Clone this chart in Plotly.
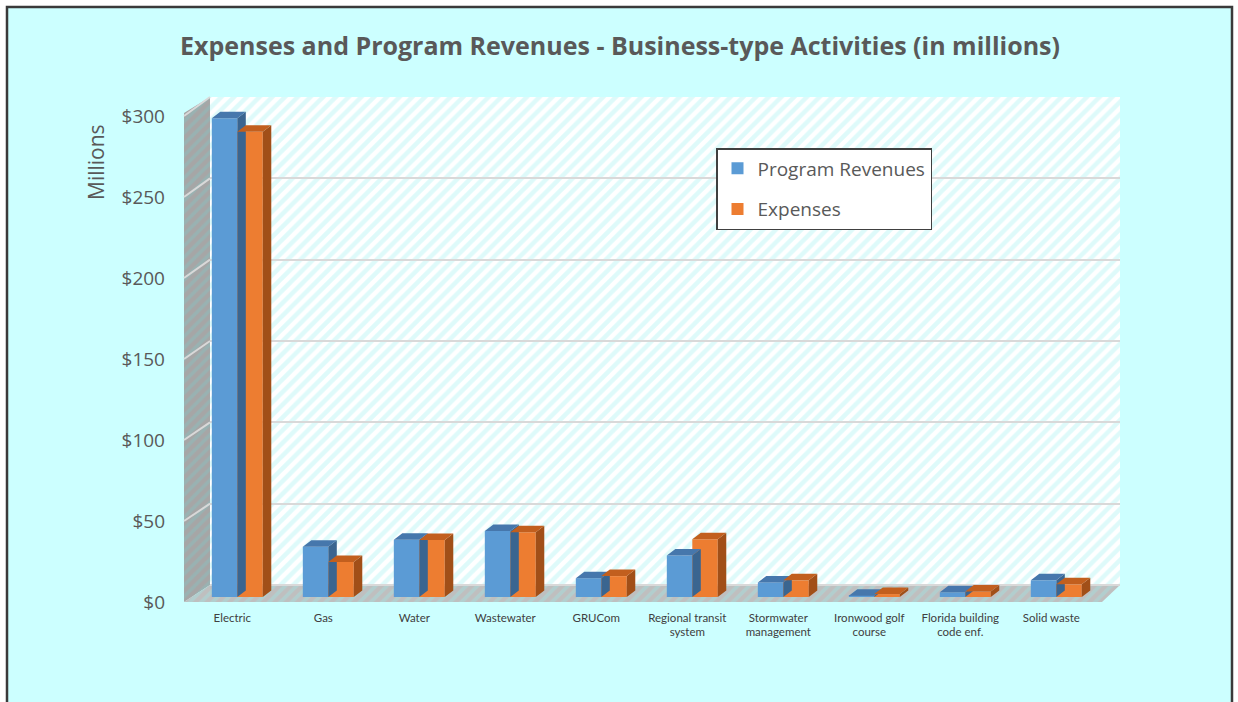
import plotly.graph_objects as go

# ---------------- data ----------------
categories = ["Electric", "Gas", "Water", "Wastewater", "GRUCom",
              "Regional transit<br>system", "Stormwater<br>management",
              "Ironwood golf<br>course", "Florida building<br>code enf.", "Solid waste"]
program_revenues = [295.5, 31.0, 35.4, 40.7, 11.6, 25.6, 9.0, 0.8, 2.9, 10.3]
expenses = [287.2, 21.6, 35.2, 40.0, 12.9, 35.7, 10.3, 1.8, 3.4, 7.8]
y_ticks = [0, 50, 100, 150, 200, 250, 300]
y_tick_labels = ["$0", "$50", "$100", "$150", "$200", "$250", "$300"]
series_names = ["Program Revenues", "Expenses"]

# ---------------- styling / geometry ----------------
W, H = 1238, 702
PX_L, PX_R, PY_T, PY_B = 210, 1120, 97, 604
X_RANGE = [-0.3, 9.7]
X_LABEL_RANGE = [-0.245, 9.755]
UNIT_PX = (PX_R - PX_L) / (X_RANGE[1] - X_RANGE[0])
BAR_ZERO, BAR_SCALE = 597, 1.62       # front plane of bars
GRID_ZERO, GRID_SCALE = 585, 488 / 300  # back wall
LAB_ZERO, LAB_SCALE = 602, 1.62        # front edge (labels)
BAR_W = 0.28
DX = 8.5 / UNIT_PX
DY = 6.5 / BAR_SCALE
FLOOR_FRONT_Y, WALL_L = 602, 184

C_BLUE, C_BLUE_TOP, C_BLUE_SIDE = "#5B9BD5", "#4677AC", "#3A6590"
C_ORANGE, C_ORANGE_TOP, C_ORANGE_SIDE = "#ED7D31", "#C25F1E", "#A14F18"
TXT = "#595959"
FONT = "Open Sans"


def yrange(zero_px, scale):
    lo = -(PY_B - zero_px) / scale
    hi = lo + (PY_B - PY_T) / scale
    return [lo, hi]


fig = go.Figure()

# ---------------- canvas subplot (walls, floor) ----------------
def poly(xs, ys, bg, fg, size=10, sol=0.45):
    fig.add_trace(go.Scatter(
        x=xs + [xs[0]], y=ys + [ys[0]], mode="lines", line=dict(width=0, color=bg),
        fill="toself", fillcolor=bg,
        fillpattern=dict(shape="/", bgcolor=bg, fgcolor=fg, size=size, solidity=sol),
        hoverinfo="skip", showlegend=False, xaxis="x", yaxis="y"))

# back wall
poly([PX_L, PX_R, PX_R, PX_L], [PY_T, PY_T, GRID_ZERO, GRID_ZERO], "#FFFFFF", "#BDF6F6", 9, 0.5)
# left wall
poly([WALL_L, PX_L, PX_L, WALL_L], [113, PY_T, GRID_ZERO, FLOOR_FRONT_Y], "#A6A6A6", "#8CBDBD", 8, 0.45)
# floor
poly([WALL_L, PX_L, PX_R, 1102], [FLOOR_FRONT_Y, GRID_ZERO, GRID_ZERO, FLOOR_FRONT_Y], "#BFBFBF", "#A6DEDE", 8, 0.45)

# slanted gridlines on the left wall
lx, ly = [], []
for t in y_ticks[1:]:
    lx += [WALL_L, PX_L, None]
    ly += [LAB_ZERO - LAB_SCALE * t, GRID_ZERO - GRID_SCALE * t, None]
fig.add_trace(go.Scatter(x=lx, y=ly, mode="lines", line=dict(color="#D9D9D9", width=2),
                         hoverinfo="skip", showlegend=False, xaxis="x", yaxis="y"))

# ---------------- grid subplot (x2, y2) dummy ----------------
fig.add_trace(go.Scatter(x=[0], y=[0], mode="markers", marker=dict(opacity=0),
                         hoverinfo="skip", showlegend=False, xaxis="x2", yaxis="y2"))

# ---------------- bars ----------------
def bar_series(vals, name, offset, c_front, c_top, c_side, rank):
    xs = list(range(len(vals)))
    fig.add_trace(go.Bar(x=xs, y=vals, width=BAR_W, offset=offset, name=name,
                         marker=dict(color=c_front, line=dict(width=0)),
                         legendgroup=name, legendrank=rank,
                         xaxis="x2", yaxis="y3"))
    sx, sy, tx, ty = [], [], [], []
    for i, v in enumerate(vals):
        xl = i + offset
        xr = xl + BAR_W
        sx += [xr, xr + DX, xr + DX, xr, None]
        sy += [0, DY, v + DY, v, None]
        tx += [xl, xr, xr + DX, xl + DX, None]
        ty += [v, v, v + DY, v + DY, None]
    for px, py, col in ((sx, sy, c_side), (tx, ty, c_top)):
        fig.add_trace(go.Scatter(x=px, y=py, mode="lines", line=dict(width=0, color=col),
                                 fill="toself", fillcolor=col, hoverinfo="skip",
                                 showlegend=False, xaxis="x2", yaxis="y3"))

bar_series(program_revenues, series_names[0], -BAR_W, C_BLUE, C_BLUE_TOP, C_BLUE_SIDE, 1)
bar_series(expenses, series_names[1], 0.0, C_ORANGE, C_ORANGE_TOP, C_ORANGE_SIDE, 2)

# label-only x axis trace
fig.add_trace(go.Scatter(x=[0], y=[0], mode="markers", marker=dict(opacity=0),
                         hoverinfo="skip", showlegend=False, xaxis="x3", yaxis="y2"))
# label-only y axis trace
fig.add_trace(go.Scatter(x=[0], y=[0], mode="markers", marker=dict(opacity=0),
                         hoverinfo="skip", showlegend=False, xaxis="x2", yaxis="y4"))

dom_x = [PX_L / W, PX_R / W]
dom_y = [(H - PY_B) / H, (H - PY_T) / H]
hidden = dict(visible=False, showgrid=False, zeroline=False, fixedrange=True, automargin=False)

bx0, bx1, by1 = 7 / W, 1232 / W, (H - 7) / H

fig.update_layout(
    width=W, height=H, autosize=False,
    margin=dict(l=0, r=0, t=0, b=0, pad=0, autoexpand=False),
    paper_bgcolor="#FFFFFF", plot_bgcolor="rgba(0,0,0,0)",
    barmode="overlay",
    font=dict(family=FONT, color=TXT),
    title=dict(text="<b>Expenses and Program Revenues - Business-type Activities (in millions)</b>",
               x=620 / W, xanchor="center", y=1 - 46 / H, yanchor="middle",
               font=dict(family=FONT, size=25, color=TXT)),
    xaxis=dict(domain=[0, 1], range=[0, W], **hidden),
    yaxis=dict(domain=[0, 1], range=[H, 0], **hidden),
    xaxis2=dict(domain=dom_x, range=X_RANGE, anchor="y2", showgrid=False, zeroline=False,
                showticklabels=False, ticks="", showline=False, fixedrange=True, automargin=False),
    xaxis3=dict(range=X_LABEL_RANGE, overlaying="x2", anchor="y2", side="bottom",
                tickmode="array", tickvals=list(range(len(categories))), ticktext=categories,
                showgrid=False, zeroline=False, ticks="", showline=False,
                ticklabelstandoff=5, tickfont=dict(size=11.5, color="#404040", family="Lato"),
                fixedrange=True, automargin=False),
    yaxis2=dict(domain=dom_y, range=yrange(GRID_ZERO, GRID_SCALE), anchor="x2",
                tickmode="array", tickvals=y_ticks, showticklabels=False, ticks="",
                showgrid=True, gridcolor="#D9D9D9", gridwidth=2, zeroline=False,
                showline=False, fixedrange=True, automargin=False),
    yaxis3=dict(range=yrange(BAR_ZERO, BAR_SCALE), overlaying="y2", anchor="x2",
                showgrid=False, zeroline=False, showticklabels=False, ticks="",
                showline=False, fixedrange=True, automargin=False),
    yaxis4=dict(range=yrange(LAB_ZERO, LAB_SCALE), overlaying="y2", anchor="x2", side="left",
                tickmode="array", tickvals=y_ticks, ticktext=y_tick_labels,
                showgrid=False, zeroline=False, ticks="", showline=False,
                ticklabelstandoff=44, tickfont=dict(size=19, color=TXT, family=FONT),
                fixedrange=True, automargin=False),
    legend=dict(x=716 / W, y=1 - 148 / H, xanchor="left", yanchor="top",
                bgcolor="#FFFFFF", bordercolor="#404040", borderwidth=1.5,
                traceorder="grouped", tracegroupgap=13,
                font=dict(size=19, color=TXT, family=FONT),
                itemclick=False, itemdoubleclick=False),
    showlegend=True,
    shapes=[
        dict(type="rect", xref="paper", yref="paper", x0=bx0, x1=bx1, y0=0, y1=by1,
             fillcolor="#CCFFFF", line=dict(width=0), layer="below"),
        dict(type="path", xref="paper", yref="paper",
             path=f"M {bx0},0 L {bx0},{by1} L {bx1},{by1} L {bx1},0",
             line=dict(color="#3A3A3A", width=2.5), layer="below"),
    ],
    annotations=[dict(text="Millions", x=96 / W, y=1 - 162 / H, xref="paper", yref="paper",
                      textangle=-90, showarrow=False, xanchor="center", yanchor="middle",
                      font=dict(size=21, color=TXT, family=FONT))],
)

post = (
    "document.documentElement.style.margin='0';document.documentElement.style.overflow='hidden';"
    "document.body.style.margin='0';document.body.style.overflow='hidden';"
)
fig.write_html("out.html", config={"displayModeBar": False}, post_script=post)
